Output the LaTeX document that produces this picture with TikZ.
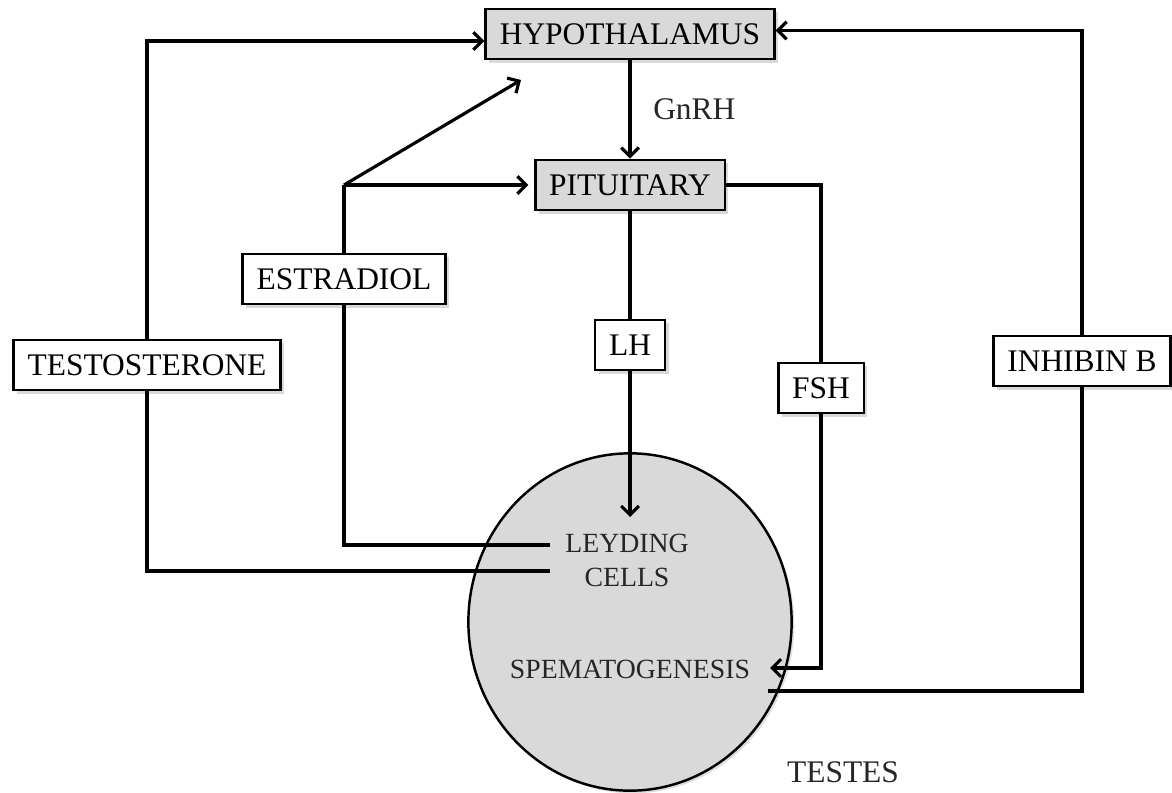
\documentclass[tikz,border=0pt]{standalone}
\usepackage{fontspec}
\setmainfont{Liberation Serif}
\usepackage{xcolor}
\usepackage{tikz}
\usetikzlibrary{
    arrows.meta,
    shapes.geometric,
    shadows
}

\definecolor{glandgray}{HTML}{D9D9D9}

\begin{document}
\begin{tikzpicture}[
    x=0.02cm,
    y=-0.02cm,
    >={Straight Barb[length=5pt,width=10pt]},
    gland_style/.style={
        draw=black,
        line width=1.6pt,
        fill=glandgray,
        font=\fontsize{17.9}{21}\selectfont,
        inner xsep=8pt,
        minimum height=28.5pt,
        drop shadow={shadow xshift=2pt, shadow yshift=-2pt, opacity=0.3}
    },
    hormone_style/.style={
        gland_style,
        fill=white
    },
    testes_style/.style={
        draw=black,
        line width=1.4pt,
        fill=glandgray,
        ellipse,
        inner sep=0pt,
        minimum width=184pt,
        minimum height=192pt,
        drop shadow={shadow xshift=1.5pt, shadow yshift=-1.5pt, opacity=0.25}
    },
    label_style/.style={
        text=black!85,
        font=\fontsize{17.9}{21}\selectfont
    },
    cell_style/.style={
        align=center,
        text=black!85,
        font=\fontsize{15.8}{19.3}\selectfont
    },
    edge_style/.style={
        draw=black,
        line width=1.8pt
    }
]
\useasboundingbox (0,0) rectangle (1172,793);

% --- Nodes ---
\node[gland_style] (HYPO) at (630,34) {HYPOTHALAMUS};
\node[gland_style] (PIT) at (630,185) {PITUITARY};

% hormones sitting on the feedback lines
\node[hormone_style] (ESTR) at (344,279) {ESTRADIOL};
\node[hormone_style] (TESTO) at (147,365) {TESTOSTERONE};
\node[hormone_style] (LH) at (630,345) {LH};
\node[hormone_style] (FSH) at (821,388) {FSH};
\node[hormone_style] (INHIB) at (1082,361) {INHIBIN B};

% Testes and what happens inside
\node[testes_style] (TESTES) at (630,622) {};
\node[cell_style] (LEY) at (627,560) {LEYDING\\CELLS};
\node[cell_style] (SPERM) at (630,669) {SPEMATOGENESIS};
\node[label_style] (TLABEL) at (843,772) {TESTES};

% free ends of the connectors
\coordinate (lh_tip) at (630,517);
\coordinate (fsh_tip) at (770,668);
\coordinate (inhib_start) at (768,691);
\coordinate (testo_end) at (550,571);
\coordinate (estr_end) at (550,545);
\coordinate (hypo_tip) at (521,80);
\coordinate (estr_fork) at (ESTR.north |- PIT.west);

% --- Edges ---
\draw[edge_style, ->] (HYPO) -- (PIT)
    node[midway, right, xshift=9pt, label_style] {GnRH};
\draw[edge_style] (PIT) -- (LH);
\draw[edge_style, ->] (LH) -- (lh_tip);
\draw[edge_style] (PIT.east) -| (FSH.north);
\draw[edge_style, ->] (FSH.south) |- (fsh_tip);

% Inhibin B back to the hypothalamus
\draw[edge_style] (inhib_start) -| (INHIB.south);
\draw[edge_style, ->] (INHIB.north) |- ([yshift=2pt]HYPO.east);

% Testosterone back to the hypothalamus
\draw[edge_style] (testo_end) -| (TESTO.south);
\draw[edge_style, ->] (TESTO.north) |- ([yshift=-4pt]HYPO.west);

% Estradiol splits to both glands
\draw[edge_style] (estr_end) -| (ESTR.south);
\draw[edge_style] (ESTR.north) -- (estr_fork);
\draw[edge_style, ->, shorten >=3pt] (estr_fork) -- (PIT.west);
\draw[edge_style, ->] (estr_fork) -- (hypo_tip);

\end{tikzpicture}
\end{document}
